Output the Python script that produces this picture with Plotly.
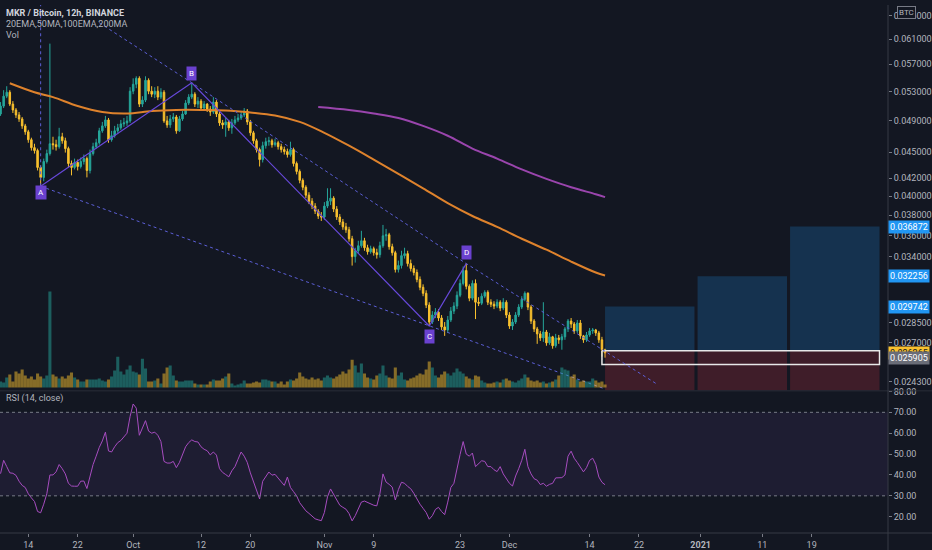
import math
import pandas as pd
import plotly.graph_objects as go

# ----- MKR/BTC 12h candles (Sep 9 2020 12:00 -> Dec 16 2020 12:00) -----
first_open = 0.04988
close = [
    0.05095, 0.05232, 0.05288, 0.05122, 0.05042, 0.04975, 0.04922, 0.04831, 0.04755, 0.04655,
    0.04557, 0.04521, 0.04321, 0.04207, 0.04390, 0.04485, 0.04605, 0.04593, 0.04569, 0.04692,
    0.04642, 0.04545, 0.04367, 0.04321, 0.04379, 0.04332, 0.04390, 0.04425, 0.04286, 0.04485,
    0.04569, 0.04617, 0.04767, 0.04831, 0.04909, 0.04655, 0.04705, 0.04767, 0.04806, 0.04857,
    0.04870, 0.04896, 0.05303, 0.05402, 0.05489, 0.05122, 0.05177, 0.05460, 0.05303, 0.05260,
    0.05303, 0.05219, 0.05288, 0.04896, 0.04844, 0.04922, 0.04948, 0.04767, 0.04922, 0.04988,
    0.05136, 0.05219, 0.05260, 0.05122, 0.05163, 0.05068, 0.05122, 0.05055, 0.05015, 0.05150,
    0.04988, 0.04870, 0.04844, 0.04883, 0.04806, 0.04870, 0.04909, 0.04935, 0.04975, 0.05028,
    0.04883, 0.04742, 0.04642, 0.04533, 0.04413, 0.04581, 0.04630, 0.04642, 0.04593, 0.04617,
    0.04569, 0.04533, 0.04509, 0.04473, 0.04533, 0.04367, 0.04275, 0.04174, 0.04097, 0.04011,
    0.03947, 0.03895, 0.03843, 0.03793, 0.03783, 0.03895, 0.03947, 0.03979, 0.03864, 0.03783,
    0.03733, 0.03684, 0.03655, 0.03568, 0.03401, 0.03455, 0.03502, 0.03549, 0.03483, 0.03446,
    0.03474, 0.03437, 0.03419, 0.03502, 0.03596, 0.03606, 0.03493, 0.03437, 0.03286, 0.03321,
    0.03410, 0.03428, 0.03338, 0.03294, 0.03259, 0.03199, 0.03132, 0.03082, 0.02986, 0.02853,
    0.02907, 0.02930, 0.02884, 0.02816, 0.02793, 0.02869, 0.02938, 0.02978, 0.03066, 0.03165,
    0.03277, 0.03140, 0.03042, 0.03165, 0.03009, 0.03001, 0.03058, 0.03090, 0.03009, 0.02993,
    0.02978, 0.03009, 0.02962, 0.03009, 0.02907, 0.02823, 0.02853, 0.02907, 0.02970, 0.03033,
    0.03082, 0.02970, 0.02861, 0.02801, 0.02764, 0.02734, 0.02778, 0.02698, 0.02742, 0.02677,
    0.02734, 0.02720, 0.02742, 0.02801, 0.02861, 0.02838, 0.02786, 0.02846, 0.02749, 0.02720,
    0.02756, 0.02786, 0.02793, 0.02771, 0.02720, 0.02649, 0.026265,
]
high = [
    0.05150, 0.05317, 0.05374, 0.05317, 0.05163, 0.05068, 0.05015, 0.04948, 0.04857, 0.04780,
    0.04680, 0.04605, 0.04545, 0.04344, 0.04425, 0.04533, 0.06025, 0.04692, 0.04655, 0.04806,
    0.04742, 0.04680, 0.04569, 0.04402, 0.04425, 0.04413, 0.04437, 0.04473, 0.04449, 0.04533,
    0.04617, 0.04667, 0.04806, 0.04883, 0.04962, 0.04935, 0.04767, 0.04831, 0.04857, 0.04909,
    0.04935, 0.04962, 0.05360, 0.05489, 0.05519, 0.05519, 0.05232, 0.05519, 0.05489, 0.05374,
    0.05360, 0.05374, 0.05345, 0.05317, 0.04962, 0.04975, 0.05001, 0.04975, 0.04962, 0.05028,
    0.05177, 0.05260, 0.05417, 0.05288, 0.05219, 0.05191, 0.05163, 0.05136, 0.05095, 0.05219,
    0.05177, 0.05015, 0.04909, 0.04935, 0.04909, 0.04922, 0.04962, 0.04988, 0.05015, 0.05068,
    0.05055, 0.04909, 0.04767, 0.04667, 0.04557, 0.04630, 0.04680, 0.04692, 0.04667, 0.04667,
    0.04642, 0.04605, 0.04569, 0.04545, 0.04630, 0.04557, 0.04390, 0.04298, 0.04196, 0.04119,
    0.04043, 0.03979, 0.03926, 0.03864, 0.03833, 0.03937, 0.04086, 0.04086, 0.04000, 0.03895,
    0.03813, 0.03763, 0.03723, 0.03684, 0.03596, 0.03483, 0.03549, 0.03645, 0.03577, 0.03511,
    0.03502, 0.03493, 0.03474, 0.03540, 0.03703, 0.03664, 0.03625, 0.03521, 0.03455, 0.03365,
    0.03455, 0.03483, 0.03455, 0.03374, 0.03321, 0.03286, 0.03225, 0.03157, 0.03107, 0.03009,
    0.02938, 0.02962, 0.02954, 0.02907, 0.02853, 0.02900, 0.02970, 0.03009, 0.03098, 0.03199,
    0.03312, 0.03338, 0.03157, 0.03191, 0.03199, 0.03050, 0.03082, 0.03107, 0.03107, 0.03033,
    0.03017, 0.03033, 0.03025, 0.03042, 0.03025, 0.02930, 0.02876, 0.02930, 0.02993, 0.03058,
    0.03098, 0.03090, 0.02986, 0.02876, 0.02816, 0.02786, 0.03009, 0.02793, 0.02771, 0.02749,
    0.02764, 0.02756, 0.02764, 0.02816, 0.02876, 0.02884, 0.02853, 0.02869, 0.02869, 0.02756,
    0.02778, 0.02808, 0.02808, 0.02801, 0.02786, 0.02742, 0.02656,
]
low = [
    0.04962, 0.05068, 0.05205, 0.05095, 0.05001, 0.04935, 0.04883, 0.04793, 0.04717, 0.04617,
    0.04521, 0.04485, 0.04286, 0.04108, 0.04163, 0.04367, 0.04461, 0.04533, 0.04521, 0.04545,
    0.04605, 0.04497, 0.04321, 0.04230, 0.04298, 0.04286, 0.04309, 0.04355, 0.04207, 0.04252,
    0.04461, 0.04545, 0.04593, 0.04742, 0.04806, 0.04617, 0.04630, 0.04680, 0.04742, 0.04780,
    0.04818, 0.04831, 0.04870, 0.05260, 0.05345, 0.05082, 0.05082, 0.05150, 0.05260, 0.05219,
    0.05205, 0.05177, 0.05191, 0.04870, 0.04806, 0.04806, 0.04883, 0.04730, 0.04755, 0.04896,
    0.04975, 0.05109, 0.05191, 0.05082, 0.05068, 0.05028, 0.05028, 0.05015, 0.04962, 0.04988,
    0.04948, 0.04831, 0.04793, 0.04692, 0.04767, 0.04730, 0.04844, 0.04883, 0.04909, 0.04948,
    0.04844, 0.04705, 0.04605, 0.04497, 0.04332, 0.04379, 0.04545, 0.04581, 0.04557, 0.04569,
    0.04533, 0.04497, 0.04473, 0.04437, 0.04449, 0.04332, 0.04241, 0.04141, 0.04064, 0.03979,
    0.03916, 0.03864, 0.03813, 0.03763, 0.03743, 0.03753, 0.03874, 0.03905, 0.03833, 0.03753,
    0.03703, 0.03655, 0.03625, 0.03540, 0.03320, 0.03347, 0.03428, 0.03483, 0.03455, 0.03419,
    0.03428, 0.03410, 0.03383, 0.03392, 0.03483, 0.03549, 0.03465, 0.03410, 0.03259, 0.03259,
    0.03294, 0.03383, 0.03312, 0.03268, 0.03233, 0.03174, 0.03107, 0.03058, 0.02962, 0.02823,
    0.02838, 0.02884, 0.02861, 0.02793, 0.02749, 0.02771, 0.02853, 0.02915, 0.02954, 0.03050,
    0.03148, 0.03115, 0.03017, 0.03025, 0.02876, 0.02978, 0.02986, 0.03042, 0.02986, 0.02970,
    0.02954, 0.02962, 0.02938, 0.02946, 0.02884, 0.02801, 0.02793, 0.02838, 0.02892, 0.02954,
    0.03017, 0.02946, 0.02838, 0.02778, 0.02691, 0.02712, 0.02705, 0.02677, 0.02684, 0.02656,
    0.02663, 0.02691, 0.02649, 0.02720, 0.02778, 0.02808, 0.02764, 0.02771, 0.02727, 0.02698,
    0.02705, 0.02742, 0.02764, 0.02749, 0.02698, 0.02600, 0.02593,
]
volume = [
    180, 150, 300, 390, 180, 480, 420, 540, 360, 270,
    330, 240, 420, 330, 270, 360, 2900, 390, 330, 270,
    330, 270, 360, 450, 300, 240, 180, 180, 240, 240,
    240, 240, 270, 210, 180, 240, 330, 510, 930, 480,
    390, 540, 660, 480, 450, 390, 870, 570, 180, 180,
    210, 270, 120, 420, 600, 660, 360, 210, 180, 180,
    210, 210, 210, 120, 90, 90, 90, 90, 180, 240,
    210, 210, 270, 330, 420, 120, 60, 90, 120, 210,
    120, 120, 150, 180, 150, 240, 240, 210, 180, 180,
    120, 180, 90, 180, 240, 210, 270, 450, 330, 270,
    240, 300, 240, 270, 210, 300, 360, 300, 270, 330,
    390, 480, 420, 540, 840, 660, 450, 720, 420, 300,
    270, 240, 360, 420, 660, 360, 300, 270, 600, 360,
    450, 240, 210, 270, 300, 360, 420, 390, 540, 780,
    600, 360, 300, 390, 480, 420, 360, 450, 570, 480,
    420, 330, 270, 240, 360, 330, 210, 150, 120, 120,
    150, 180, 150, 240, 270, 210, 180, 150, 210, 270,
    390, 300, 210, 180, 210, 150, 180, 120, 150, 180,
    240, 360, 600, 540, 510, 330, 390, 240, 180, 210,
    180, 180, 270, 210, 150, 180, 90,
]
rsi = [
    40.6, 47.0, 44.0, 41.0, 40.8, 39.8, 37.0, 35.0, 34.0, 31.0,
    29.0, 27.3, 22.5, 21.9, 26.0, 31.0, 40.0, 40.0, 41.5, 45.0,
    43.0, 40.5, 36.0, 34.7, 34.6, 34.6, 37.0, 37.1, 33.5, 39.0,
    45.0, 49.0, 53.2, 56.3, 60.5, 51.5, 51.0, 53.5, 55.5, 56.5,
    58.0, 60.0, 68.0, 74.0, 72.0, 59.0, 62.5, 66.0, 61.0, 60.0,
    60.5, 59.0, 56.0, 46.5, 45.7, 45.7, 46.5, 43.5, 46.0, 49.8,
    53.5, 55.5, 56.8, 56.0, 55.8, 53.5, 52.3, 51.6, 49.6, 51.0,
    49.5, 43.0, 41.2, 40.2, 39.1, 42.0, 44.0, 47.5, 51.0, 49.0,
    46.0, 41.0, 36.5, 32.0, 28.5, 37.0, 39.5, 41.4, 39.9, 40.3,
    38.5, 36.6, 35.0, 39.0, 34.0, 32.0, 30.0, 26.7, 24.5, 22.8,
    21.6, 20.5, 19.0, 18.5, 18.1, 22.0, 29.5, 33.3, 30.5, 28.0,
    25.5, 24.5, 23.6, 21.5, 18.0, 20.5, 23.8, 27.0, 27.5, 26.8,
    26.0, 25.5, 25.2, 31.0, 40.5, 36.6, 35.5, 34.2, 28.0, 33.0,
    36.5, 36.0, 34.5, 33.4, 31.2, 28.5, 26.0, 24.0, 22.0, 18.8,
    20.5, 23.5, 24.5, 22.5, 21.0, 27.0, 34.0, 36.0, 43.8, 49.8,
    56.0, 50.0, 49.0, 50.5, 44.0, 45.5, 46.8, 46.5, 44.0, 44.0,
    42.5, 41.6, 44.0, 40.5, 38.0, 36.0, 34.7, 39.5, 43.0, 47.0,
    52.3, 44.0, 40.5, 38.2, 37.5, 35.4, 36.0, 34.6, 35.5, 36.0,
    38.6, 38.8, 38.7, 40.0, 49.0, 51.4, 48.0, 46.0, 44.0, 41.5,
    43.5, 47.0, 48.0, 45.0, 39.0, 36.5, 35.3,
]

# moving averages
ema_dates = ["2020-09-11", "2020-09-15", "2020-09-18", "2020-09-22", "2020-09-26", "2020-09-30",
             "2020-10-04", "2020-10-08", "2020-10-12", "2020-10-16", "2020-10-20", "2020-10-24",
             "2020-10-28", "2020-11-01", "2020-11-05", "2020-11-09", "2020-11-13", "2020-11-17",
             "2020-11-21", "2020-11-25", "2020-11-29", "2020-12-03", "2020-12-07", "2020-12-11",
             "2020-12-15", "2020-12-16 12:00"]
ema_vals = [0.05417, 0.05288, 0.05219, 0.05095, 0.05015, 0.04995, 0.05028, 0.05042, 0.05042,
            0.05035, 0.05008, 0.04968, 0.04883, 0.04742, 0.04581, 0.04413, 0.04247, 0.04086,
            0.03926, 0.03793, 0.03684, 0.03568, 0.03465, 0.03356, 0.03259, 0.03233]
ma200_dates = ["2020-10-31", "2020-11-05", "2020-11-09", "2020-11-13", "2020-11-17", "2020-11-21",
               "2020-11-25", "2020-11-29", "2020-12-03", "2020-12-07", "2020-12-11", "2020-12-15",
               "2020-12-16 12:00"]
ma200_vals = [0.05082, 0.05042, 0.04995, 0.04935, 0.04831, 0.04705, 0.04545, 0.04425, 0.04298,
              0.04190, 0.04097, 0.04021, 0.03990]

# ABCD pattern
abcd_names = ["A", "B", "C", "D"]
abcd_dates = ["2020-09-16 00:00", "2020-10-10 12:00", "2020-11-18 00:00", "2020-11-24 00:00"]
abcd_prices = [0.04108, 0.05424, 0.02823, 0.03338]
label_prices = [0.04040, 0.05563, 0.02742, 0.03437]

# dotted channel lines
upper_dates = ["2020-09-25 12:00", "2020-10-10 12:00", "2020-11-24 00:00", "2020-12-25 00:00"]
upper_prices = [0.06372, 0.05424, 0.03338, 0.02413]
lower_dates = ["2020-09-16 00:00", "2020-11-18 00:00", "2020-12-16 12:00"]
lower_prices = [0.04108, 0.02823, 0.02384]

# long position tools
entry = 0.02642
stop = 0.02300
targets = [0.029742, 0.032256, 0.036872]
pos_start = ["2020-12-16 12:00", "2020-12-31 12:00", "2021-01-15 12:00"]
pos_end = ["2020-12-31 00:00", "2021-01-15 00:00", "2021-01-30 00:00"]
box_dates = ["2020-12-16 00:00", "2021-01-30 00:00"]
box_prices = [0.02642, 0.02545]

# axis ticks
price_ticks = [0.065, 0.061, 0.057, 0.053, 0.049, 0.045, 0.042, 0.040, 0.038, 0.036, 0.034,
               0.0285, 0.027, 0.0243]
rsi_ticks = [20, 30, 40, 50, 60, 70, 80]
date_ticks = ["2020-09-14", "2020-09-22", "2020-10-01", "2020-10-12", "2020-10-20", "2020-11-01",
              "2020-11-09", "2020-11-23", "2020-12-01", "2020-12-14", "2020-12-22", "2021-01-01",
              "2021-01-11", "2021-01-19"]
date_labels = ["14", "22", "Oct", "12", "20", "Nov", "9", "23", "Dec", "14", "22", "<b>2021</b>",
               "11", "19"]

BG = "#131722"
UP = "#26a69a"
DOWN = "#f9c12e"
TXT = "#b2b5be"
FONT = "Roboto"

dates = pd.date_range("2020-09-09 12:00", periods=len(close), freq="12h")
opens = [first_open] + close[:-1]
vol_colors = ["rgba(38,166,154,0.5)" if c >= o else "rgba(249,193,46,0.5)"
              for o, c in zip(opens, close)]

fig = go.Figure()

# volume overlay
fig.add_trace(go.Bar(x=dates, y=volume, marker=dict(color=vol_colors, line=dict(width=0)),
                     width=12 * 3600 * 1000, xaxis="x", yaxis="y3", hoverinfo="skip"))

# position boxes
for s, e, t in zip(pos_start, pos_end, targets):
    fig.add_trace(go.Scatter(x=[s, e, e, s, s], y=[entry, entry, t, t, entry], fill="toself",
                             fillcolor="rgba(33,150,243,0.22)", mode="lines", line=dict(width=0),
                             hoverinfo="skip"))
    fig.add_trace(go.Scatter(x=[s, e, e, s, s], y=[entry, entry, stop, stop, entry], fill="toself",
                             fillcolor="rgba(242,54,69,0.2)", mode="lines", line=dict(width=0),
                             hoverinfo="skip"))
fig.add_trace(go.Scatter(x=[box_dates[0], box_dates[1], box_dates[1], box_dates[0], box_dates[0]],
                         y=[box_prices[0], box_prices[0], box_prices[1], box_prices[1], box_prices[0]],
                         mode="lines", line=dict(color="#e8e8e8", width=1.5), hoverinfo="skip"))

# moving averages
fig.add_trace(go.Scatter(x=ema_dates, y=ema_vals, mode="lines", line=dict(color="#de822c", width=2, shape="spline"),
                         hoverinfo="skip"))
fig.add_trace(go.Scatter(x=ma200_dates, y=ma200_vals, mode="lines",
                         line=dict(color="#9a45ad", width=2, shape="spline"), hoverinfo="skip"))

# dotted lines
fig.add_trace(go.Scatter(x=upper_dates, y=upper_prices, mode="lines",
                         line=dict(color="#5c5fd6", width=1, dash="dot"), hoverinfo="skip"))
fig.add_trace(go.Scatter(x=lower_dates, y=lower_prices, mode="lines",
                         line=dict(color="#5c5fd6", width=1, dash="dot"), hoverinfo="skip"))
fig.add_trace(go.Scatter(x=[abcd_dates[0], abcd_dates[0]], y=[abcd_prices[0], 0.07], mode="lines",
                         line=dict(color="#5c5fd6", width=1, dash="dot"), hoverinfo="skip"))

# candles
fig.add_trace(go.Candlestick(
    x=dates, open=opens, high=high, low=low, close=close,
    increasing=dict(line=dict(color=UP, width=1), fillcolor=UP),
    decreasing=dict(line=dict(color=DOWN, width=1), fillcolor=DOWN),
    whiskerwidth=0, hoverinfo="skip", xaxis="x", yaxis="y"))

# ABCD legs
fig.add_trace(go.Scatter(x=abcd_dates, y=abcd_prices, mode="lines",
                         line=dict(color="#6648d8", width=1.2), hoverinfo="skip"))

# RSI
fig.add_trace(go.Scatter(x=dates, y=rsi, mode="lines", line=dict(color="#a74dc0", width=1),
                         xaxis="x", yaxis="y2", hoverinfo="skip"))

annotations = []
for n, d, p in zip(abcd_names, abcd_dates, label_prices):
    annotations.append(dict(x=d, y=math.log10(p), xref="x", yref="y", text=n, showarrow=False,
                            bgcolor="#6a41cf", font=dict(color="white", size=8, family=FONT),
                            borderpad=2))

# header texts
annotations += [
    dict(x=0.005, y=1 - 8 / 533, xref="paper", yref="paper", xanchor="left", yanchor="middle",
         text="<b>MKR / Bitcoin, 12h, BINANCE</b>", showarrow=False,
         font=dict(color="#d1d4dc", size=9, family=FONT)),
    dict(x=0.005, y=1 - 19 / 533, xref="paper", yref="paper", xanchor="left", yanchor="middle",
         text="20EMA,50MA,100EMA,200MA", showarrow=False, font=dict(color=TXT, size=9, family=FONT)),
    dict(x=0.005, y=1 - 30 / 533, xref="paper", yref="paper", xanchor="left", yanchor="middle",
         text="Vol", showarrow=False, font=dict(color=TXT, size=9, family=FONT)),
    dict(x=0.005, y=1 - 397 / 533, xref="paper", yref="paper", xanchor="left", yanchor="middle",
         text="RSI (14, close)", showarrow=False, font=dict(color=TXT, size=9, family=FONT)),
    dict(x=1, xshift=9, y=1 - 8 / 533, xref="paper", yref="paper", xanchor="left", yanchor="middle",
         text="BTC", showarrow=False, bgcolor=BG, bordercolor="#787b86", borderwidth=1, borderpad=1,
         font=dict(color=TXT, size=8, family=FONT)),
]

# price labels on the scale
for t in targets:
    annotations.append(dict(x=1, y=math.log10(t), xref="paper", yref="y", xanchor="left",
                            text=f"{t:.6f}", showarrow=False, bgcolor="#2196f3", borderpad=1,
                            font=dict(color="white", size=9, family=FONT)))
annotations.append(dict(x=1, y=math.log10(close[-1]), xref="paper", yref="y", xanchor="left",
                        text=f"{close[-1]:.6f}", showarrow=False, bgcolor="#f9c12e", borderpad=1,
                        font=dict(color="#131722", size=9, family=FONT)))
annotations.append(dict(x=1, y=math.log10(0.025905), xref="paper", yref="y", xanchor="left",
                        text="0.025905", showarrow=False, bgcolor="#6a6d78", borderpad=1,
                        font=dict(color="white", size=9, family=FONT)))

shapes = [
    dict(type="rect", xref="paper", yref="y2", x0=0, x1=1, y0=30, y1=70,
         fillcolor="rgba(126,87,194,0.1)", line=dict(width=0), layer="below"),
    dict(type="line", xref="paper", yref="y2", x0=0, x1=1, y0=70, y1=70,
         line=dict(color="#787b86", width=1, dash="3px,3px")),
    dict(type="line", xref="paper", yref="y2", x0=0, x1=1, y0=30, y1=30,
         line=dict(color="#787b86", width=1, dash="3px,3px")),
    dict(type="line", xref="paper", yref="paper", x0=0, x1=1.05, y0=1 - 389.5 / 533, y1=1 - 389.5 / 533,
         line=dict(color="#2a2e39", width=1)),
    dict(type="line", xref="paper", yref="paper", x0=0, x1=1.05, y0=0, y1=0,
         line=dict(color="#363a45", width=1)),
    dict(type="line", xref="paper", yref="paper", x0=1, x1=1, y0=-0.04, y1=1,
         line=dict(color="#363a45", width=1)),
]

axis_font = dict(color=TXT, size=9, family=FONT)
fig.update_layout(
    width=932, height=550,
    margin=dict(l=0, r=38, t=0, b=17),
    paper_bgcolor=BG, plot_bgcolor=BG,
    showlegend=False, hovermode=False,
    font=dict(family=FONT, color=TXT),
    xaxis=dict(domain=[0, 1], anchor="y2", type="date",
               range=["2020-09-09 09:50", "2021-01-31 09:00"],
               tickvals=date_ticks, ticktext=date_labels, tickfont=axis_font,
               ticks="outside", ticklen=3, tickcolor="#787b86",
               showgrid=False, zeroline=False, showline=False,
               rangeslider=dict(visible=False)),
    yaxis=dict(domain=[1 - 389 / 533, 1], anchor="x", side="right", type="log",
               range=[-1.62433, -1.17501], tickvals=price_ticks, tickformat=".6f",
               tickfont=axis_font, ticks="outside", ticklen=3, tickcolor="#787b86",
               showgrid=False, zeroline=False, showline=False),
    yaxis2=dict(domain=[0, 143 / 533], anchor="x", side="right", range=[12.2, 80.05],
                tickvals=rsi_ticks, tickformat=".2f", tickfont=axis_font,
                ticks="outside", ticklen=3, tickcolor="#787b86",
                showgrid=False, zeroline=False, showline=False),
    yaxis3=dict(overlaying="y", anchor="x", side="left", range=[-90, 11580], visible=False),
    annotations=annotations,
    shapes=shapes,
)

# page body margin off so the figure fills the window like the screenshot
fig.write_html("out.html", config={"displayModeBar": False},
               post_script="document.body.style.margin='0';document.body.style.background='#131722';")
